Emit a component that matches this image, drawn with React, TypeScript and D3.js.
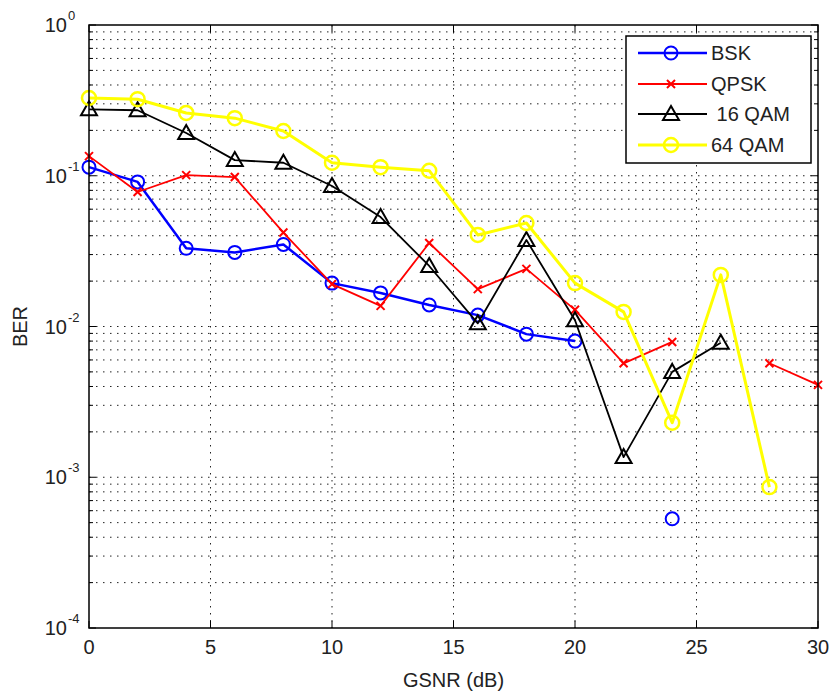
import React from "react";
import * as d3 from "d3";

const gsnr = [0, 2, 4, 6, 8, 10, 12, 14, 16, 18, 20, 22, 24, 26, 28, 30];
const bsk = [0.114, 0.091, 0.033, 0.031, 0.035, 0.0194, 0.0167, 0.0139, 0.0119, 0.0089, 0.008, null, 0.00053, null, null, null];
const qpsk = [0.135, 0.078, 0.101, 0.098, 0.042, 0.0191, 0.0137, 0.0358, 0.0177, 0.0241, 0.0129, 0.0057, 0.0079, null, 0.0057, 0.0041];
const qam16 = [0.276, 0.272, 0.192, 0.127, 0.122, 0.0855, 0.0532, 0.0252, 0.0105, 0.0375, 0.011, 0.00136, 0.005, 0.0078, null, null];
const qam64 = [0.328, 0.322, 0.261, 0.241, 0.198, 0.122, 0.114, 0.108, 0.0405, 0.0486, 0.0194, 0.0125, 0.0023, 0.022, 0.00086, null];
const seriesNames = ["BSK", "QPSK", " 16 QAM", "64 QAM"];
const xTicks = [0, 5, 10, 15, 20, 25, 30];
const yExps = [0, -1, -2, -3, -4];

const W = 832, H = 693;
const L = 89, R = 818, T = 25, B = 628;
const FONT = "'Liberation Sans Narrow', 'Liberation Sans', Arial, sans-serif";

export default function App() {
  const x = d3.scaleLinear().domain([0, 30]).range([L, R]);
  const y = d3.scaleLog().domain([1e-4, 1]).range([B, T]);

  const minor: number[] = [];
  for (let e = -4; e < 0; e++) for (let m = 2; m <= 9; m++) minor.push(m * Math.pow(10, e));

  const colors = ["#0000ff", "#ff0000", "#000000", "#ffff00"];
  const widths = [2.5, 1.8, 1.8, 3];
  const data = [bsk, qpsk, qam16, qam64];

  const line = d3.line<[number, number | null]>()
    .defined(d => d[1] != null)
    .x(d => x(d[0]))
    .y(d => y(d[1] as number));

  const marker = (k: number, cx: number, cy: number, key: string) => {
    if (k === 0 || k === 3)
      return <circle key={key} cx={cx} cy={cy} r={k === 3 ? 7 : 6.5} fill="none" stroke={colors[k]} strokeWidth={k === 3 ? 2.5 : 2} />;
    if (k === 1)
      return <path key={key} d={`M${cx - 4},${cy - 4}L${cx + 4},${cy + 4}M${cx - 4},${cy + 4}L${cx + 4},${cy - 4}`} stroke={colors[k]} strokeWidth={2} />;
    const s = 8;
    return <path key={key} d={`M${cx},${cy - s}L${cx + s},${cy + s * 0.75}L${cx - s},${cy + s * 0.75}Z`} fill="none" stroke="#000" strokeWidth={2} />;
  };

  const legX = 626, legY = 36, legW = 185, legH = 127;
  const legRows = [53, 84, 114, 145];

  return (
    <svg width={W} height={H} style={{ position: "absolute", left: 0, top: 0, background: "#fff" }} fontFamily={FONT}>
      <rect x={0} y={0} width={W} height={H} fill="#fff" />
      {/* grid */}
      <g stroke="#222" strokeWidth={1} strokeDasharray="1.5 5.5">
        {minor.map((v, i) => <line key={"m" + i} x1={L} x2={R} y1={y(v)} y2={y(v)} />)}
        {yExps.slice(1, 4).map(e => <line key={"M" + e} x1={L} x2={R} y1={y(Math.pow(10, e))} y2={y(Math.pow(10, e))} />)}
        {xTicks.slice(1, -1).map(t => <line key={"x" + t} x1={x(t)} x2={x(t)} y1={T} y2={B} />)}
      </g>
      {/* ticks */}
      <g stroke="#000" strokeWidth={1}>
        {minor.map((v, i) => (
          <g key={"mt" + i}>
            <line x1={L} x2={L + 4} y1={y(v)} y2={y(v)} />
            <line x1={R} x2={R - 4} y1={y(v)} y2={y(v)} />
          </g>
        ))}
        {yExps.map(e => (
          <g key={"yt" + e}>
            <line x1={L} x2={L + 7} y1={y(Math.pow(10, e))} y2={y(Math.pow(10, e))} />
            <line x1={R} x2={R - 7} y1={y(Math.pow(10, e))} y2={y(Math.pow(10, e))} />
          </g>
        ))}
        {xTicks.map(t => (
          <g key={"xt" + t}>
            <line x1={x(t)} x2={x(t)} y1={B} y2={B - 7} />
            <line x1={x(t)} x2={x(t)} y1={T} y2={T + 7} />
          </g>
        ))}
      </g>
      {/* series */}
      {data.map((d, k) => (
        <g key={"s" + k}>
          <path d={line(gsnr.map((g, i) => [g, d[i]] as [number, number | null])) || ""} fill="none" stroke={colors[k]} strokeWidth={widths[k]} strokeLinejoin="round" />
          {gsnr.map((g, i) => d[i] != null ? marker(k, x(g), y(d[i] as number), `p${k}-${i}`) : null)}
        </g>
      ))}
      {/* frame */}
      <rect x={L} y={T} width={R - L} height={B - T} fill="none" stroke="#000" strokeWidth={1.5} />
      {/* y labels */}
      {yExps.map(e => (
        <g key={"yl" + e}>
          <text x={L - 22} y={y(Math.pow(10, e)) + 7} fontSize={20} textAnchor="end" fill="#222">10</text>
          <text x={L - 21} y={y(Math.pow(10, e)) - 5} fontSize={13} textAnchor="start" fill="#222">{e}</text>
        </g>
      ))}
      {/* x labels */}
      {xTicks.map(t => (
        <text key={"xl" + t} x={x(t)} y={B + 26} fontSize={20} textAnchor="middle" fill="#222">{t}</text>
      ))}
      <text x={(L + R) / 2} y={H - 6} fontSize={20} textAnchor="middle" fill="#222">GSNR (dB)</text>
      <text transform={`translate(27, ${(T + B) / 2}) rotate(-90)`} fontSize={20} textAnchor="middle" fill="#222">BER</text>
      {/* legend */}
      <rect x={legX} y={legY} width={legW} height={legH} fill="#fff" stroke="#000" strokeWidth={1.5} />
      {seriesNames.map((n, k) => (
        <g key={"lg" + k}>
          <line x1={638} x2={707} y1={legRows[k]} y2={legRows[k]} stroke={colors[k]} strokeWidth={widths[k]} />
          {marker(k, 671, legRows[k], "lm" + k)}
          <text x={711} y={legRows[k] + 7} fontSize={20} fill="#222" style={{ whiteSpace: "pre" }}>{n}</text>
        </g>
      ))}
    </svg>
  );
}
